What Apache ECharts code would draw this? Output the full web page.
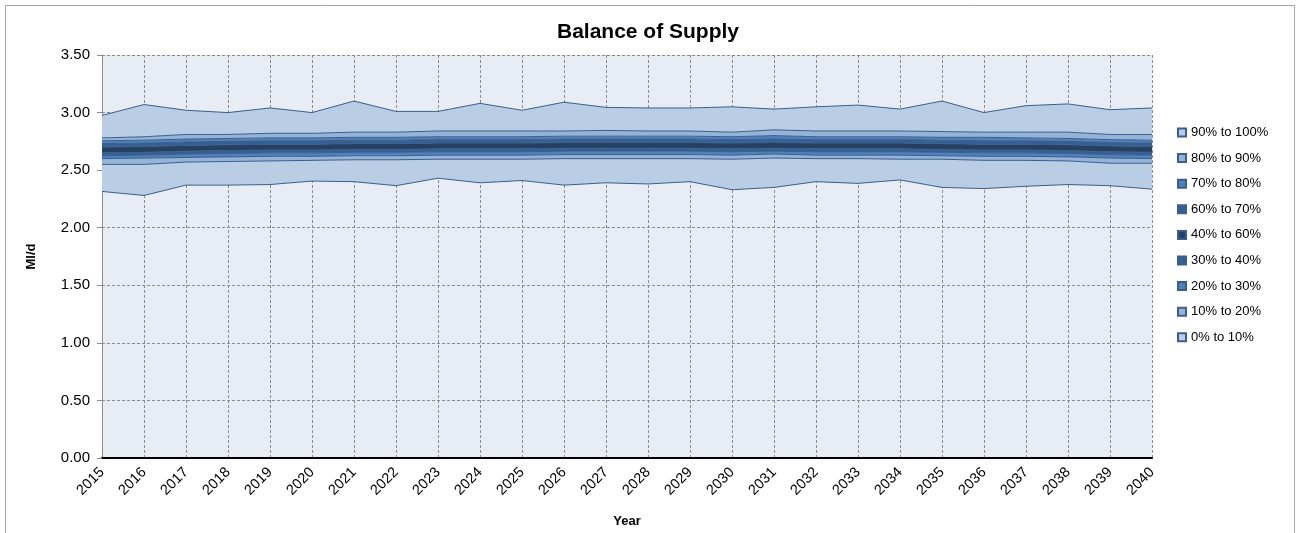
<!DOCTYPE html>
<html>
<head>
<meta charset="utf-8">
<script src="https://cdn.jsdelivr.net/npm/echarts@6/dist/echarts.min.js"></script>
<style>
  html, body { margin: 0; padding: 0; background: #fff; }
  #main { width: 1296px; height: 533px; }
</style>
</head>
<body>
<div id="main"></div>
<script>
// years on the x axis
var years = ['2015','2016','2017','2018','2019','2020','2021','2022','2023','2024','2025','2026','2027',
  '2028','2029','2030','2031','2032','2033','2034','2035','2036','2037','2038','2039','2040'];

// percentile lines (Ml/d)
var p0   = [2.315,2.28,2.37,2.37,2.375,2.405,2.40,2.365,2.43,2.39,2.41,2.37,2.39,2.38,2.40,2.33,2.35,2.40,2.385,2.415,2.35,2.34,2.36,2.375,2.365,2.335];
var p10  = [2.55,2.55,2.57,2.575,2.58,2.585,2.59,2.59,2.595,2.595,2.595,2.60,2.60,2.60,2.60,2.595,2.605,2.60,2.60,2.595,2.595,2.585,2.585,2.58,2.56,2.56];
var p20  = [2.60,2.605,2.61,2.615,2.62,2.62,2.625,2.625,2.63,2.63,2.63,2.635,2.635,2.635,2.635,2.63,2.64,2.63,2.63,2.63,2.625,2.62,2.62,2.615,2.605,2.60];
var p30  = [2.625,2.63,2.64,2.645,2.65,2.65,2.655,2.655,2.66,2.66,2.66,2.665,2.665,2.665,2.665,2.66,2.665,2.66,2.66,2.66,2.655,2.65,2.65,2.645,2.635,2.63];
var p40  = [2.65,2.655,2.665,2.67,2.675,2.675,2.68,2.68,2.685,2.685,2.685,2.69,2.69,2.69,2.69,2.685,2.69,2.685,2.685,2.685,2.68,2.675,2.675,2.67,2.66,2.655];
var p60  = [2.70,2.705,2.715,2.72,2.725,2.725,2.73,2.73,2.735,2.735,2.735,2.74,2.74,2.74,2.74,2.735,2.74,2.735,2.735,2.735,2.73,2.725,2.725,2.72,2.71,2.705];
var p70  = [2.73,2.735,2.745,2.75,2.755,2.755,2.76,2.76,2.765,2.765,2.765,2.77,2.77,2.77,2.77,2.765,2.77,2.765,2.765,2.765,2.76,2.755,2.755,2.75,2.74,2.735];
var p80  = [2.755,2.76,2.77,2.775,2.78,2.78,2.785,2.785,2.79,2.79,2.79,2.795,2.795,2.795,2.795,2.79,2.80,2.79,2.79,2.79,2.785,2.785,2.78,2.775,2.765,2.76];
var p90  = [2.78,2.79,2.81,2.81,2.82,2.82,2.83,2.83,2.84,2.84,2.84,2.84,2.845,2.84,2.84,2.83,2.85,2.84,2.84,2.84,2.835,2.83,2.83,2.83,2.81,2.81];
var p100 = [2.975,3.07,3.02,3.00,3.04,3.00,3.10,3.01,3.01,3.08,3.02,3.09,3.045,3.04,3.04,3.05,3.03,3.05,3.065,3.03,3.10,3.00,3.06,3.075,3.025,3.04];

var bandNames = ['0% to 10%','10% to 20%','20% to 30%','30% to 40%','40% to 60%',
  '60% to 70%','70% to 80%','80% to 90%','90% to 100%'];
var bandColors = ['#B9CDE5','#95B3D7','#4F81BD','#376092','#254061',
  '#376092','#4F81BD','#95B3D7','#B9CDE5'];
var yTicks = [0, 0.5, 1, 1.5, 2, 2.5, 3, 3.5];

var lines = [p0, p10, p20, p30, p40, p60, p70, p80, p90, p100];
var edge = '#3A5F8F';
var font = '"Liberation Sans", Arial, sans-serif';

function diff(hi, lo) {
  return hi.map(function (v, i) { return +(v - lo[i]).toFixed(4); });
}

var series = [{
  name: 'base',
  type: 'line',
  stack: 'fan',
  symbol: 'none',
  silent: true,
  lineStyle: { color: edge, width: 1 },
  areaStyle: { opacity: 0 },
  data: p0
}];
bandNames.forEach(function (name, i) {
  series.push({
    name: name,
    type: 'line',
    stack: 'fan',
    symbol: 'none',
    itemStyle: { color: bandColors[i], borderColor: edge, borderWidth: 1 },
    lineStyle: { color: edge, width: 1 },
    areaStyle: { color: bandColors[i], opacity: 1 },
    data: diff(lines[i + 1], lines[i])
  });
});

var myChart = echarts.init(document.getElementById('main'));
myChart.setOption({
  animation: false,
  backgroundColor: '#fff',
  title: {
    text: 'Balance of Supply',
    left: 'center',
    top: 17,
    textStyle: { fontFamily: font, fontSize: 21, fontWeight: 'bold', color: '#000' }
  },
  legend: {
    orient: 'vertical',
    left: 1172,
    top: 121,
    itemWidth: 8,
    itemHeight: 8,
    itemGap: 12.6,
    icon: 'rect',
    textStyle: { fontFamily: font, fontSize: 13, color: '#000' },
    data: bandNames.slice().reverse()
  },
  grid: {
    left: 102,
    right: 144,
    top: 55,
    bottom: 75,
    show: true,
    backgroundColor: '#E8ECF4',
    borderWidth: 0
  },
  xAxis: {
    type: 'category',
    boundaryGap: false,
    data: years,
    name: 'Year',
    nameLocation: 'middle',
    nameGap: 57,
    nameTextStyle: { fontFamily: font, fontSize: 13, fontWeight: 'bold', color: '#000' },
    axisLine: { lineStyle: { color: '#000', width: 2 } },
    axisTick: { show: false },
    axisLabel: { rotate: 45, fontFamily: font, fontSize: 14.5, color: '#000', margin: 12 },
    splitLine: { show: true, lineStyle: { color: '#8C8C8C', type: [3, 2], width: 1 } }
  },
  yAxis: {
    type: 'value',
    min: yTicks[0],
    max: yTicks[yTicks.length - 1],
    interval: 0.5,
    name: 'Ml/d',
    nameLocation: 'middle',
    nameGap: 64,
    nameTextStyle: { fontFamily: font, fontSize: 13, fontWeight: 'bold', color: '#000' },
    axisLine: { show: true, lineStyle: { color: '#8C8C8C', width: 1 } },
    axisTick: { show: true, length: 5, lineStyle: { color: '#8C8C8C' } },
    axisLabel: {
      fontFamily: font, fontSize: 15, color: '#000', margin: 12,
      formatter: function (v) { return v.toFixed(2); }
    },
    splitLine: { show: true, lineStyle: { color: '#8C8C8C', type: [3, 2], width: 1 } }
  },
  graphic: [{
    type: 'rect',
    silent: true,
    shape: { x: 5.5, y: 5.5, width: 1289, height: 540 },
    style: { fill: 'none', stroke: '#A6A6A6', lineWidth: 1 }
  }],
  series: series
});
window.addEventListener('resize', function () { myChart.resize(); });
</script>
</body>
</html>
